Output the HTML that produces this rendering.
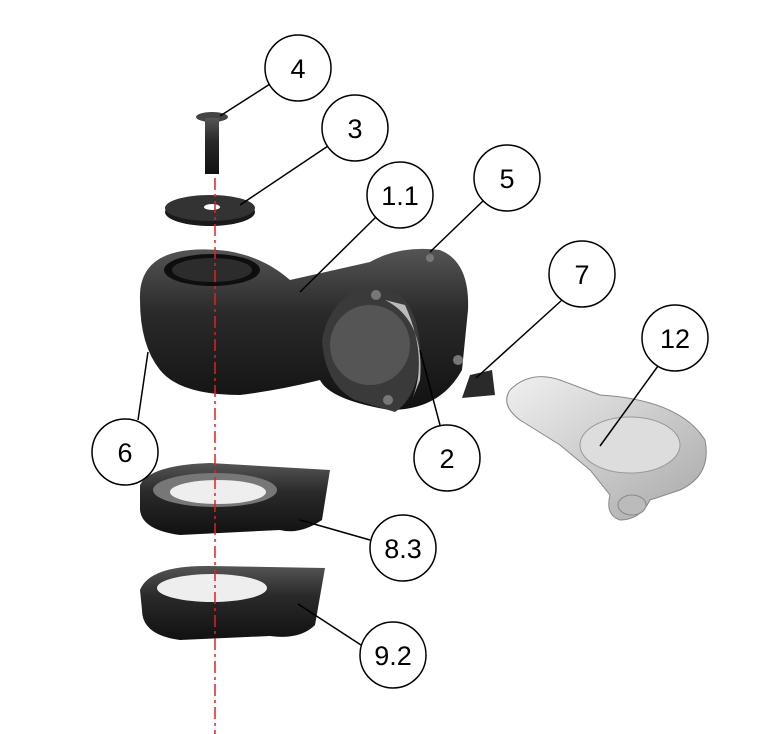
<!DOCTYPE html>
<html><head><meta charset="utf-8"><style>
html,body{margin:0;padding:0;background:#fff;}
svg{display:block;}
text{font-family:"Liberation Sans",sans-serif;font-size:27px;fill:#000;text-anchor:middle;}
</style></head><body>
<svg width="784" height="734" viewBox="0 0 784 734" xmlns="http://www.w3.org/2000/svg">
<defs>
<linearGradient id="dk" x1="0" y1="0" x2="0" y2="1"><stop offset="0" stop-color="#555"/><stop offset="0.4" stop-color="#2a2a2a"/><stop offset="1" stop-color="#111"/></linearGradient>
<linearGradient id="lt" x1="0" y1="0" x2="1" y2="1"><stop offset="0" stop-color="#f0f0f0"/><stop offset="1" stop-color="#a8a8a8"/></linearGradient>
</defs>
<!-- bolt -->
<ellipse cx="212" cy="117" rx="16" ry="5" fill="#444"/>
<rect x="205" y="118" width="14" height="56" fill="url(#dk)"/>
<!-- washer -->
<ellipse cx="210" cy="212" rx="45" ry="14" fill="#1a1a1a"/>
<ellipse cx="210" cy="208" rx="45" ry="13" fill="#333"/>
<ellipse cx="212" cy="207" rx="8" ry="3" fill="#fff"/>
<!-- stem body -->
<path d="M140 300 Q138 255 190 250 Q250 245 290 280 L370 262 Q400 245 440 250 Q470 262 468 310 L462 370 Q440 410 390 410 Q330 400 320 380 Q280 390 240 395 Q180 395 160 370 Q140 345 140 300 Z" fill="url(#dk)"/>
<ellipse cx="212" cy="270" rx="48" ry="16" fill="#0e0e0e"/>
<ellipse cx="212" cy="270" rx="40" ry="12" fill="#2c2c2c"/>
<!-- clamp front -->
<path d="M360 290 Q330 300 322 340 Q325 385 355 400 L395 412 Q420 395 420 350 Q418 305 395 292 Z" fill="#3a3a3a"/>
<ellipse cx="370" cy="345" rx="40" ry="40" fill="#555"/>
<path d="M385 300 Q425 320 420 380 L410 405 Q430 360 405 305 Z" fill="#bbb"/>
<circle cx="376" cy="295" r="5" fill="#777"/><circle cx="388" cy="400" r="5" fill="#777"/><circle cx="458" cy="360" r="5" fill="#777"/><circle cx="430" cy="258" r="4" fill="#777"/>
<!-- wedge 7 -->
<path d="M462 398 L470 375 L492 370 L495 395 Z" fill="#2a2a2a"/>
<!-- spacer 8.3 -->
<path d="M140 485 Q150 465 210 463 L330 470 L322 520 Q300 535 280 530 L180 535 Q142 530 140 510 Z" fill="url(#dk)"/>
<ellipse cx="215" cy="490" rx="62" ry="17" fill="#777"/>
<ellipse cx="218" cy="492" rx="48" ry="12" fill="#eee"/>
<!-- spacer 9.2 -->
<path d="M140 590 Q150 565 210 566 L325 568 L315 625 Q300 640 270 636 L180 640 Q142 635 142 610 Z" fill="url(#dk)"/>
<ellipse cx="212" cy="588" rx="55" ry="14" fill="#eee"/>
<!-- mount 12 -->
<path d="M510 390 Q530 370 560 380 L600 395 Q680 400 705 440 Q712 475 680 490 L650 500 Q640 520 620 520 Q605 515 610 495 L590 470 L560 445 L520 420 Q500 405 510 390 Z" fill="url(#lt)" stroke="#888" stroke-width="1"/>
<ellipse cx="630" cy="445" rx="50" ry="28" fill="#ddd" stroke="#999"/>
<ellipse cx="632" cy="505" rx="14" ry="10" fill="#bbb" stroke="#888"/>
<!-- centre line -->
<line x1="215" y1="178" x2="215" y2="734" stroke="#d22" stroke-width="1.5" stroke-dasharray="12,4,3,4"/>
<!-- leaders -->
<g stroke="#000" stroke-width="1.5" fill="none">
<line x1="270" y1="84" x2="220" y2="116"/>
<line x1="328" y1="146" x2="240" y2="205"/>
<line x1="376" y1="217" x2="300" y2="292"/>
<line x1="484" y1="200" x2="430" y2="252"/>
<line x1="562" y1="300" x2="476" y2="378"/>
<line x1="658" y1="366" x2="600" y2="446"/>
<line x1="138" y1="420" x2="148" y2="352"/>
<line x1="440" y1="425" x2="420" y2="350"/>
<line x1="370" y1="540" x2="300" y2="520"/>
<line x1="361" y1="645" x2="298" y2="604"/>
<circle cx="298" cy="68" r="33" fill="#fff"/>
<circle cx="355" cy="128" r="33" fill="#fff"/>
<circle cx="400" cy="195" r="33" fill="#fff"/>
<circle cx="507" cy="178" r="33" fill="#fff"/>
<circle cx="582" cy="274" r="33" fill="#fff"/>
<circle cx="675" cy="338" r="33" fill="#fff"/>
<circle cx="125" cy="452" r="33" fill="#fff"/>
<circle cx="447" cy="458" r="33" fill="#fff"/>
<circle cx="403" cy="548" r="33" fill="#fff"/>
<circle cx="393" cy="655" r="33" fill="#fff"/>
</g>
<text x="298" y="78">4</text>
<text x="355" y="138">3</text>
<text x="400" y="205">1.1</text>
<text x="507" y="188">5</text>
<text x="582" y="284">7</text>
<text x="675" y="348">12</text>
<text x="125" y="462">6</text>
<text x="447" y="468">2</text>
<text x="403" y="558">8.3</text>
<text x="393" y="665">9.2</text>
</svg>
</body></html>
